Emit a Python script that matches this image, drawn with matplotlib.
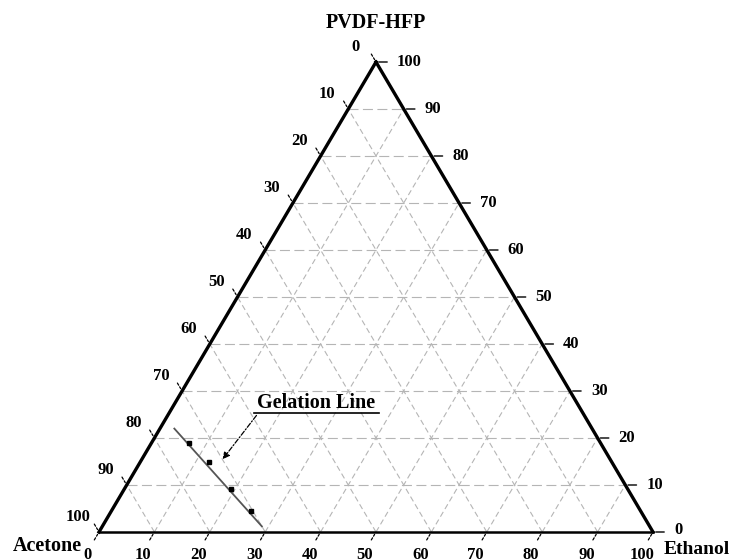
import numpy as np
import matplotlib
matplotlib.use("Agg")
import matplotlib.pyplot as plt

# ternary axes: Acetone (bottom-left), Ethanol (bottom-right), PVDF-HFP (top)
ticks = list(range(0, 101, 10))
apex_labels = ["Acetone", "Ethanol", "PVDF-HFP"]

# gelation line (percent)
gel_pvdf = [19.0, 14.8, 9.2, 4.4]
gel_ethanol = [6.7, 12.5, 19.3, 25.2]
gel_line_pvdf = [22.0, 1.2]
gel_line_ethanol = [2.6, 28.8]

H = 470 / 554  # triangle is a bit flatter than equilateral
PX = 1 / 554   # one pixel in data units


def tern(eth, pvdf):
    eth = np.asarray(eth, float) / 100
    pvdf = np.asarray(pvdf, float) / 100
    return eth + pvdf / 2, pvdf * H


fig = plt.figure(figsize=(7.35, 5.6), dpi=100)
ax = fig.add_axes([0, 0, 1, 1])
x0 = -99 * PX
y0 = -28 * PX
ax.set_xlim(x0, x0 + 735 * PX)
ax.set_ylim(y0, y0 + 560 * PX)
ax.axis("off")

serif = ["Liberation Serif", "DejaVu Serif"]
grid_kw = dict(color="#b5b5b5", lw=0.8, zorder=1)

# grid lines
for t in ticks[1:-1]:
    # constant PVDF (horizontal)
    x, y = tern([0, 100 - t], [t, t])
    ax.plot(x, y, dashes=(9, 4), **grid_kw)
    # constant Ethanol
    x, y = tern([t, t], [0, 100 - t])
    ax.plot(x, y, dashes=(5, 3), **grid_kw)
    # constant Acetone
    x, y = tern([100 - t, 0], [0, 100 - t])
    ax.plot(x, y, dashes=(5, 3), **grid_kw)

# triangle
x, y = tern([0, 100], [0, 0])
ax.plot(x, y, color="black", lw=1.8, zorder=3)
x, y = tern([0, 0], [0, 100])
ax.plot(x, y, color="black", lw=2.4, zorder=3)
x, y = tern([100, 0], [0, 100])
ax.plot(x, y, color="black", lw=2.4, zorder=3)

tick_font = dict(family=serif, fontweight="bold", fontsize=12)
L = 12  # tick length in pixels
dx, dy = 0.509, 0.861
for t in ticks:
    # bottom: Ethanol
    bx, by = tern(t, 0)
    ax.annotate("", xy=(bx, by), xytext=(-L * dx, -L * dy), textcoords="offset pixels",
                arrowprops=dict(arrowstyle="-", color="black", lw=0.9, linestyle=(0, (2, 1.5))))
    ax.annotate(str(t), xy=(bx, by), xytext=(-11, -23), textcoords="offset pixels",
                ha="center", va="center", annotation_clip=False, **tick_font)
    # right: PVDF-HFP
    rx, ry = tern(100 - t, t)
    ax.annotate("", xy=(rx, ry), xytext=(14, 0), textcoords="offset pixels",
                arrowprops=dict(arrowstyle="-", color="black", lw=1.0))
    ax.annotate(str(t), xy=(rx, ry), xytext=(21, 2 if t == 0 else 0), textcoords="offset pixels",
                ha="left", va="center", **tick_font)
    # left: Acetone
    lx, ly = tern(0, 100 - t)
    ax.annotate("", xy=(lx, ly), xytext=(-L * dx, L * dy), textcoords="offset pixels",
                arrowprops=dict(arrowstyle="-", color="black", lw=0.9, linestyle=(0, (2, 1.5))))
    ax.annotate(str(t), xy=(lx, ly), xytext=(-21, 15), textcoords="offset pixels",
                ha="center", va="center", **tick_font)

# apex labels
lab_font = dict(family=serif, fontweight="bold", fontsize=14.5)
ax.annotate(apex_labels[0], xy=tern(0, 0), xytext=(-52, -14), textcoords="offset pixels",
            ha="center", va="center", **lab_font)
ax.annotate(apex_labels[1], xy=tern(100, 0), xytext=(44, -17), textcoords="offset pixels",
            ha="center", va="center", family=serif, fontweight="bold", fontsize=14)
ax.annotate(apex_labels[2], xy=tern(0, 100), xytext=(0, 39), textcoords="offset pixels",
            ha="center", va="center", **lab_font)

# gelation line
x, y = tern(gel_line_ethanol, gel_line_pvdf)
ax.plot(x, y, color="#555555", lw=1.3, zorder=4)
x, y = tern(gel_ethanol, gel_pvdf)
ax.plot(x, y, "s", color="black", ms=3.5, zorder=5)

# annotation
tx, ty = tern(25.5, 27.4)
ax.text(tx, ty, "Gelation Line", ha="center", va="center", zorder=6,
        family=serif, fontweight="bold", fontsize=14.5)
ul_y = ty - 10 * PX
ax.plot([tx - 62 * PX, tx + 63 * PX], [ul_y, ul_y], color="black", lw=1.2, zorder=6)
ax.annotate("", xy=tern(14.5, 15.0), xytext=(tx - 58 * PX, ul_y),
            arrowprops=dict(arrowstyle="-|>", color="black", lw=0.9,
                            linestyle=(0, (4, 1.5, 1, 1.5)), mutation_scale=10))

fig.savefig("out.png", dpi=100, facecolor="white")
